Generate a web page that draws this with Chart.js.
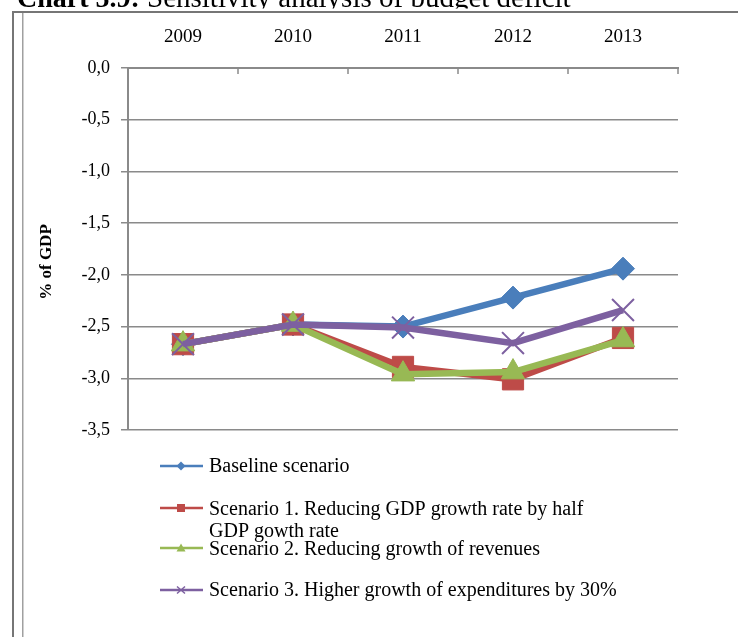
<!DOCTYPE html>
<html>
<head>
<meta charset="utf-8">
<script src="https://cdn.jsdelivr.net/npm/chart.js@4.4.1/dist/chart.umd.min.js"></script>
<style>
  html, body { margin: 0; padding: 0; background: #fff; }
  #wrap { position: relative; width: 738px; height: 637px; overflow: hidden; }
</style>
</head>
<body>
<div id="wrap"><canvas id="c" width="738" height="637"></canvas></div>
<script>
// Budget balance, % of GDP, by scenario
const years = ['2009', '2010', '2011', '2012', '2013'];
const baseline  = [-2.67, -2.48, -2.50, -2.22, -1.94];
const scenario1 = [-2.67, -2.48, -2.89, -3.01, -2.61];
const scenario2 = [-2.67, -2.48, -2.96, -2.94, -2.63];
const scenario3 = [-2.67, -2.48, -2.51, -2.66, -2.34];

const yTicks = [-3.5, -3.0, -2.5, -2.0, -1.5, -1.0, -0.5, 0];
const yTickLabels = ['-3,5', '-3,0', '-2,5', '-2,0', '-1,5', '-1,0', '-0,5', '0,0'];

const seriesNames = [
  ['Baseline scenario'],
  ['Scenario 1. Reducing GDP growth rate by half', 'GDP gowth rate'],
  ['Scenario 2. Reducing growth of revenues'],
  ['Scenario 3. Higher growth of expenditures by 30%']
];
const headingBold = 'Chart 5.9:';
const headingText = 'Sensitivity analysis of budget deficit';
const axisTitle = '% of GDP';

const BLUE = '#4a7ebb', RED = '#be4b48', GREEN = '#98b954', PURPLE = '#7d60a0';
const GRID = '#8a8a8a';
const SERIF = '"Liberation Serif", "Times New Roman", serif';

const styles = [
  { color: BLUE,   shape: 'rectRot',  r: 11.5, order: 3 },
  { color: RED,    shape: 'rect',     r: 15,   order: 2 },
  { color: GREEN,  shape: 'triangle', r: 13.5, order: 1 },
  { color: PURPLE, shape: 'crossRot', r: 15.5, order: 0 }
];
const series = [baseline, scenario1, scenario2, scenario3];

// small legend markers
function legendMarker(ctx, shape, x, y, color) {
  ctx.save();
  ctx.fillStyle = color;
  ctx.strokeStyle = color;
  ctx.beginPath();
  if (shape === 'rectRot') {
    ctx.moveTo(x, y - 4.5); ctx.lineTo(x + 4.5, y); ctx.lineTo(x, y + 4.5); ctx.lineTo(x - 4.5, y);
    ctx.closePath(); ctx.fill();
  } else if (shape === 'rect') {
    ctx.rect(x - 4, y - 4, 8, 8); ctx.fill();
  } else if (shape === 'triangle') {
    ctx.moveTo(x, y - 4.5); ctx.lineTo(x + 4.5, y + 3.5); ctx.lineTo(x - 4.5, y + 3.5);
    ctx.closePath(); ctx.fill();
  } else {
    ctx.lineWidth = 1.5;
    ctx.moveTo(x - 4, y - 3.5); ctx.lineTo(x + 4, y + 3.5);
    ctx.moveTo(x + 4, y - 3.5); ctx.lineTo(x - 4, y + 3.5);
    ctx.stroke();
  }
  ctx.restore();
}

const decorations = {
  id: 'decorations',
  beforeDraw(chart) {
    const ctx = chart.ctx;
    ctx.save();
    ctx.fillStyle = '#fff';
    ctx.fillRect(0, 0, 738, 637);
    // heading line above the frame
    ctx.fillStyle = '#000';
    ctx.textBaseline = 'alphabetic';
    ctx.textAlign = 'left';
    ctx.font = 'bold 28px ' + SERIF;
    ctx.fillText(headingBold, 17, 7);
    ctx.font = '29px ' + SERIF;
    ctx.fillText(headingText, 147, 7);
    // white panel of the chart object
    ctx.fillStyle = '#fff';
    ctx.fillRect(0, 8.5, 738, 629);
    // frame
    ctx.fillStyle = '#767676';
    ctx.fillRect(12, 11, 726, 2);
    ctx.fillRect(12, 11, 2, 626);
    ctx.fillStyle = '#a0a0a0';
    ctx.fillRect(22, 13, 1.5, 624);
    ctx.restore();
  },
  afterDraw(chart) {
    const ctx = chart.ctx;
    const xs = chart.scales.x;
    const area = chart.chartArea;
    ctx.save();
    // category boundary tick marks on the top axis
    const step = xs.getPixelForValue(1) - xs.getPixelForValue(0);
    ctx.strokeStyle = GRID;
    ctx.lineWidth = 1.5;
    for (let i = 0; i <= years.length; i++) {
      const x = Math.round(xs.getPixelForValue(0) - step / 2 + i * step);
      ctx.beginPath();
      ctx.moveTo(x, area.top);
      ctx.lineTo(x, area.top + 6);
      ctx.stroke();
    }
    // value axis title
    ctx.save();
    ctx.translate(47, 262);
    ctx.rotate(-Math.PI / 2);
    ctx.fillStyle = '#000';
    ctx.font = 'bold 17px ' + SERIF;
    ctx.textAlign = 'center';
    ctx.textBaseline = 'middle';
    ctx.fillText(axisTitle, 0, 0);
    ctx.restore();
    // legend
    const rows = [
      { lineY: 466, baselines: [472] },
      { lineY: 508, baselines: [515, 537] },
      { lineY: 548, baselines: [555] },
      { lineY: 590, baselines: [596] }
    ];
    ctx.font = '20px ' + SERIF;
    ctx.textAlign = 'left';
    ctx.textBaseline = 'alphabetic';
    rows.forEach((row, i) => {
      const st = styles[i];
      ctx.strokeStyle = st.color;
      ctx.lineWidth = 2.5;
      ctx.beginPath();
      ctx.moveTo(160, row.lineY);
      ctx.lineTo(203, row.lineY);
      ctx.stroke();
      legendMarker(ctx, st.shape, 181, row.lineY, st.color);
      ctx.fillStyle = '#000';
      seriesNames[i].forEach((t, k) => ctx.fillText(t, 209, row.baselines[k]));
    });
    ctx.restore();
  }
};

new Chart(document.getElementById('c'), {
  type: 'line',
  data: {
    labels: years,
    datasets: series.map((d, i) => ({
      label: seriesNames[i].join(' '),
      data: d,
      borderColor: styles[i].color,
      backgroundColor: styles[i].color,
      borderWidth: 6.5,
      tension: 0,
      pointStyle: styles[i].shape,
      pointRadius: styles[i].r,
      pointHoverRadius: styles[i].r,
      pointBackgroundColor: styles[i].color,
      pointBorderColor: styles[i].color,
      pointBorderWidth: styles[i].shape === 'crossRot' ? 2 : 1,
      order: styles[i].order,
      clip: false
    }))
  },
  options: {
    responsive: false,
    devicePixelRatio: 1,
    animation: false,
    events: [],
    layout: { padding: { left: 0, right: 60, top: 0, bottom: 207 } },
    plugins: { legend: { display: false }, tooltip: { enabled: false }, title: { display: false } },
    scales: {
      x: {
        type: 'category',
        position: 'top',
        offset: true,
        grid: { display: false, drawTicks: false },
        border: { display: true, color: GRID, width: 2 },
        ticks: { color: '#000', font: { family: SERIF, size: 19 }, padding: 20, maxRotation: 0 },
        afterFit(s) { s.height = 68; }
      },
      y: {
        type: 'linear',
        min: -3.5,
        max: 0,
        afterBuildTicks(s) { s.ticks = yTicks.map(v => ({ value: v })); },
        grid: { color: GRID, lineWidth: 1.5, tickLength: 7, tickColor: GRID },
        border: { display: true, color: GRID, width: 2 },
        ticks: {
          color: '#000',
          font: { family: SERIF, size: 18 },
          padding: 11,
          callback: (v) => yTickLabels[yTicks.indexOf(v)]
        },
        afterFit(s) { s.width = 128; }
      }
    }
  },
  plugins: [decorations]
});
</script>
</body>
</html>
